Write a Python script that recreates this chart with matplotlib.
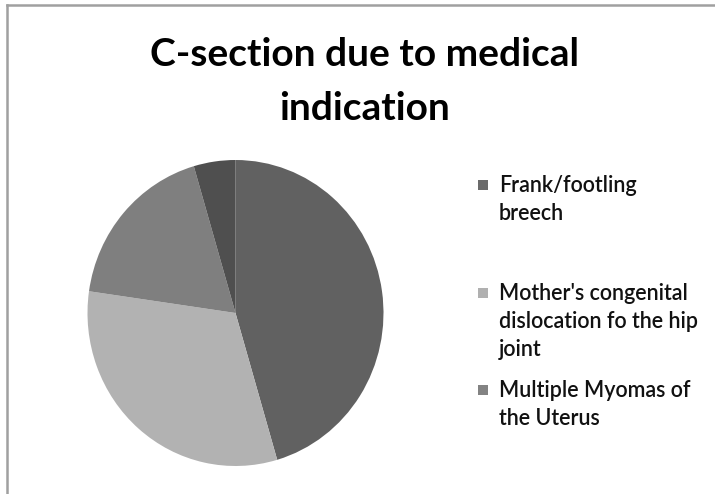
import matplotlib.pyplot as plt
from matplotlib.lines import Line2D
from matplotlib.patches import Rectangle

# ------------------------------------------------------------
# Data
# ------------------------------------------------------------
labels = ["Frank/footling\nbreech",
          "Mother's congenital\ndislocation fo the hip\njoint",
          "Multiple Myomas of\nthe Uterus",
          "Other"]
counts = [10, 7, 4, 1]
colors = ["#616161", "#b2b2b2", "#7f7f7f", "#4f4f4f"]
legend_colors = ["#6b6b6b", "#b0b0b0", "#838383"]

title_lines = ["C-section due to medical", "indication"]

# ------------------------------------------------------------
# Figure
# ------------------------------------------------------------
W, H = 715, 494
fig = plt.figure(figsize=(W / 100, H / 100), dpi=100)
fig.patch.set_facecolor("white")

# border (top and left visible)
fig.add_artist(Line2D([7 / W, 7 / W], [0, 1 - 5 / H], color="#a0a0a0", lw=1.8,
                      transform=fig.transFigure))
fig.add_artist(Line2D([7 / W, 1], [1 - 5 / H, 1 - 5 / H], color="#a0a0a0", lw=1.8,
                      transform=fig.transFigure))

# pie axes: center (235, 313), rx ~148, ry ~153
cx, cy, rx, ry = 235.5, 313, 148, 153
ax = fig.add_axes([(cx - rx) / W, 1 - (cy + ry) / H, 2 * rx / W, 2 * ry / H])
ax.pie(counts, colors=colors, startangle=90, counterclock=False,
       radius=1.0, wedgeprops=dict(linewidth=0))
ax.set_aspect("auto")
ax.set_xlim(-1, 1)
ax.set_ylim(-1, 1)

# title, two lines
for line, base in zip(title_lines, [66, 120]):
    fig.text(364.5 / W, 1 - base / H, line, ha="center", va="baseline",
             fontsize=28, fontweight="bold", family="Lato")

# legend (first three entries shown)
entry_y = [185, 293, 390]
line_gap = 28
for lab, col, y in zip(labels[:3], legend_colors, entry_y):
    fig.add_artist(Rectangle((478 / W, 1 - (y + 5) / H), 10 / W, 10 / H,
                             facecolor=col, edgecolor="none",
                             transform=fig.transFigure))
    for i, line in enumerate(lab.split("\n")):
        fig.text(499 / W, 1 - (y + i * line_gap) / H, line, ha="left",
                 va="center", fontsize=15.5, fontweight="semibold",
                 family="Lato", color="#111111")

plt.savefig("out.png", dpi=100)
